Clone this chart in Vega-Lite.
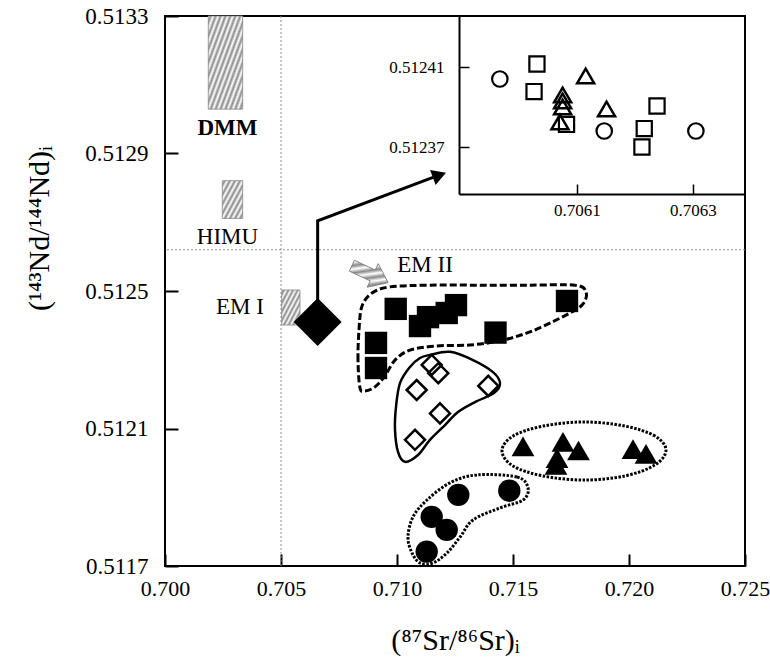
{
  "$schema": "https://vega.github.io/schema/vega-lite/v6.json",
  "width": 580,
  "height": 550,
  "autosize": {"type": "none"},
  "padding": {"left": 165, "top": 16, "right": 25, "bottom": 99},
  "background": "white",
  "config": {"view": {"stroke": "black", "strokeWidth": 2}, "font": "Liberation Serif",
    "axis": {"labelFont": "Liberation Serif", "titleFont": "Liberation Serif"}},
  "datasets": {
    "main": [
      {"s": "sq", "x": 0.709944, "y": 0.512448},
      {"s": "sq", "x": 0.710991, "y": 0.512398},
      {"s": "sq", "x": 0.711336, "y": 0.512424},
      {"s": "sq", "x": 0.712142, "y": 0.512436},
      {"s": "sq", "x": 0.712543, "y": 0.512459},
      {"s": "sq", "x": 0.717328, "y": 0.512471},
      {"s": "sq", "x": 0.714246, "y": 0.512379},
      {"s": "sq", "x": 0.709095, "y": 0.512349},
      {"s": "sq", "x": 0.709095, "y": 0.512276},
      {"s": "dm", "x": 0.711496, "y": 0.512285},
      {"s": "dm", "x": 0.71178, "y": 0.512261},
      {"s": "dm", "x": 0.710849, "y": 0.512212},
      {"s": "dm", "x": 0.713935, "y": 0.512224},
      {"s": "dm", "x": 0.711853, "y": 0.512144},
      {"s": "dm", "x": 0.710776, "y": 0.512067},
      {"s": "tr", "x": 0.715431, "y": 0.512048},
      {"s": "tr", "x": 0.717155, "y": 0.512061},
      {"s": "tr", "x": 0.716897, "y": 0.512014},
      {"s": "tr", "x": 0.716853, "y": 0.511994},
      {"s": "tr", "x": 0.717823, "y": 0.512036},
      {"s": "tr", "x": 0.720172, "y": 0.51204},
      {"s": "tr", "x": 0.720733, "y": 0.512026},
      {"s": "ci", "x": 0.712642, "y": 0.511907},
      {"s": "ci", "x": 0.714841, "y": 0.511919},
      {"s": "ci", "x": 0.711496, "y": 0.511843},
      {"s": "ci", "x": 0.712142, "y": 0.511805},
      {"s": "ci", "x": 0.71128, "y": 0.511742},
      {"s": "big", "x": 0.70658, "y": 0.51241}
    ],
    "inset": [
      {"s": "ci", "x": 0.705967, "y": 0.512404},
      {"s": "ci", "x": 0.706147, "y": 0.512378},
      {"s": "ci", "x": 0.706305, "y": 0.512378},
      {"s": "sq", "x": 0.706031, "y": 0.5124115},
      {"s": "sq", "x": 0.706026, "y": 0.5123977},
      {"s": "sq", "x": 0.706082, "y": 0.5123813},
      {"s": "sq", "x": 0.706238, "y": 0.5123905},
      {"s": "sq", "x": 0.706216, "y": 0.5123792},
      {"s": "sq", "x": 0.706212, "y": 0.51237},
      {"s": "tr", "x": 0.706115, "y": 0.5124055},
      {"s": "tr", "x": 0.706151, "y": 0.512389},
      {"s": "tr", "x": 0.7060753, "y": 0.512396},
      {"s": "tr", "x": 0.7060753, "y": 0.512393},
      {"s": "tr", "x": 0.7060753, "y": 0.51239},
      {"s": "tr", "x": 0.7060707, "y": 0.5123825}
    ],
    "outline": [
      {"g": "sq", "i": 1, "x": 0.708405, "y": 0.512218},
      {"g": "sq", "i": 2, "x": 0.708319, "y": 0.512299},
      {"g": "sq", "i": 3, "x": 0.708362, "y": 0.512387},
      {"g": "sq", "i": 4, "x": 0.708491, "y": 0.512456},
      {"g": "sq", "i": 5, "x": 0.708922, "y": 0.512494},
      {"g": "sq", "i": 6, "x": 0.709698, "y": 0.512512},
      {"g": "sq", "i": 7, "x": 0.711422, "y": 0.512517},
      {"g": "sq", "i": 8, "x": 0.713578, "y": 0.512517},
      {"g": "sq", "i": 9, "x": 0.715733, "y": 0.512517},
      {"g": "sq", "i": 10, "x": 0.717672, "y": 0.512517},
      {"g": "sq", "i": 11, "x": 0.718147, "y": 0.512497},
      {"g": "sq", "i": 12, "x": 0.717974, "y": 0.512459},
      {"g": "sq", "i": 13, "x": 0.717026, "y": 0.512421},
      {"g": "sq", "i": 14, "x": 0.715733, "y": 0.512381},
      {"g": "sq", "i": 15, "x": 0.71444, "y": 0.512355},
      {"g": "sq", "i": 16, "x": 0.713147, "y": 0.512343},
      {"g": "sq", "i": 17, "x": 0.711681, "y": 0.51234},
      {"g": "sq", "i": 18, "x": 0.71056, "y": 0.512328},
      {"g": "sq", "i": 19, "x": 0.709914, "y": 0.512299},
      {"g": "sq", "i": 20, "x": 0.709483, "y": 0.512253},
      {"g": "sq", "i": 21, "x": 0.709052, "y": 0.512221},
      {"g": "sq", "i": 22, "x": 0.708621, "y": 0.512209},
      {"g": "dm", "i": 1, "x": 0.711422, "y": 0.512314},
      {"g": "dm", "i": 2, "x": 0.712284, "y": 0.512323},
      {"g": "dm", "i": 3, "x": 0.713276, "y": 0.512299},
      {"g": "dm", "i": 4, "x": 0.714138, "y": 0.512264},
      {"g": "dm", "i": 5, "x": 0.71444, "y": 0.512232},
      {"g": "dm", "i": 6, "x": 0.714181, "y": 0.512203},
      {"g": "dm", "i": 7, "x": 0.713362, "y": 0.512177},
      {"g": "dm", "i": 8, "x": 0.712629, "y": 0.512148},
      {"g": "dm", "i": 9, "x": 0.712069, "y": 0.51211},
      {"g": "dm", "i": 10, "x": 0.711422, "y": 0.512067},
      {"g": "dm", "i": 11, "x": 0.710905, "y": 0.512023},
      {"g": "dm", "i": 12, "x": 0.710345, "y": 0.512003},
      {"g": "dm", "i": 13, "x": 0.710043, "y": 0.512032},
      {"g": "dm", "i": 14, "x": 0.709914, "y": 0.512096},
      {"g": "dm", "i": 15, "x": 0.709957, "y": 0.512163},
      {"g": "dm", "i": 16, "x": 0.710129, "y": 0.512232},
      {"g": "dm", "i": 17, "x": 0.71056, "y": 0.512279},
      {"g": "dm", "i": 18, "x": 0.710991, "y": 0.512305},
      {"g": "tr", "i": 1, "x": 0.721595, "y": 0.512037},
      {"g": "tr", "i": 2, "x": 0.721121, "y": 0.512078},
      {"g": "tr", "i": 3, "x": 0.719828, "y": 0.512107},
      {"g": "tr", "i": 4, "x": 0.71806, "y": 0.512119},
      {"g": "tr", "i": 5, "x": 0.716293, "y": 0.512107},
      {"g": "tr", "i": 6, "x": 0.715, "y": 0.512078},
      {"g": "tr", "i": 7, "x": 0.714526, "y": 0.512035},
      {"g": "tr", "i": 8, "x": 0.715, "y": 0.511991},
      {"g": "tr", "i": 9, "x": 0.716293, "y": 0.511962},
      {"g": "tr", "i": 10, "x": 0.71806, "y": 0.51195},
      {"g": "tr", "i": 11, "x": 0.719828, "y": 0.511962},
      {"g": "tr", "i": 12, "x": 0.721121, "y": 0.511994},
      {"g": "ci", "i": 1, "x": 0.713448, "y": 0.511965},
      {"g": "ci", "i": 2, "x": 0.715172, "y": 0.511959},
      {"g": "ci", "i": 3, "x": 0.715647, "y": 0.511927},
      {"g": "ci", "i": 4, "x": 0.715431, "y": 0.511892},
      {"g": "ci", "i": 5, "x": 0.71444, "y": 0.511869},
      {"g": "ci", "i": 6, "x": 0.713276, "y": 0.511834},
      {"g": "ci", "i": 7, "x": 0.712716, "y": 0.511784},
      {"g": "ci", "i": 8, "x": 0.712155, "y": 0.511738},
      {"g": "ci", "i": 9, "x": 0.711552, "y": 0.511709},
      {"g": "ci", "i": 10, "x": 0.710991, "y": 0.511709},
      {"g": "ci", "i": 11, "x": 0.710647, "y": 0.511738},
      {"g": "ci", "i": 12, "x": 0.710474, "y": 0.511784},
      {"g": "ci", "i": 13, "x": 0.71069, "y": 0.511843},
      {"g": "ci", "i": 14, "x": 0.711293, "y": 0.511892},
      {"g": "ci", "i": 15, "x": 0.712284, "y": 0.511942}
    ],
    "arrow": [
      {"i": 1, "x": 0.70658, "y": 0.51241},
      {"i": 2, "x": 0.70658, "y": 0.512704},
      {"i": 3, "x": 0.711724, "y": 0.512835}
    ],
    "arrowhead": [{"x": 0.711828, "y": 0.512837}],
    "emarrow": [{"x": 0.708836, "y": 0.512549}],
    "regions": [
      {"name": "DMM", "x1": 0.701866, "x2": 0.703349, "y1": 0.513029, "y2": 0.5133},
      {"name": "HIMU", "x1": 0.70247, "x2": 0.703349, "y1": 0.512711, "y2": 0.512821},
      {"name": "EM I", "x1": 0.70503, "x2": 0.705819, "y1": 0.512401, "y2": 0.512503}
    ],
    "labels": [
      {"label": "DMM", "x": 0.702694, "y": 0.512974},
      {"label": "HIMU", "x": 0.702694, "y": 0.512656},
      {"label": "EM I", "x": 0.703233, "y": 0.512453},
      {"label": "EM II", "x": 0.711207, "y": 0.512576}
    ],
    "vref": [{"x": 0.705}],
    "href": [{"y": 0.51262}]
  },
  "layer": [
    {
      "layer": [
        {
          "data": {"name": "main"},
          "transform": [{"filter": "datum.s === 'sq'"}],
          "mark": {"type": "point", "shape": "square", "filled": true, "color": "black", "opacity": 0, "size": 1},
          "encoding": {
            "x": {"field": "x", "type": "quantitative",
              "scale": {"domain": [0.7, 0.725], "nice": false, "zero": false},
              "axis": {"values": [0.7, 0.705, 0.71, 0.715, 0.72, 0.725], "format": ".3f", "domain": false, "grid": false,
                "tickSize": -12, "tickWidth": 2, "tickColor": "black", "labelFont": "Liberation Serif", "labelFontSize": 22, "labelColor": "black", "labelPadding": 24,
                "labelFlush": false, "labelOverlap": false,
                "title": "(⁸⁷Sr/⁸⁶Sr)ᵢ", "titleFont": "Liberation Serif", "titleFontSize": 30, "titleFontWeight": "normal", "titleColor": "black",
                "titleX": 290, "titleY": 74, "titleBaseline": "middle", "titleAlign": "center"}},
            "y": {"field": "y", "type": "quantitative",
              "scale": {"domain": [0.5117, 0.5133], "nice": false, "zero": false},
              "axis": {"values": [0.5117, 0.5121, 0.5125, 0.5129, 0.5133], "format": ".4f", "domain": false, "grid": false,
                "tickSize": -13, "tickWidth": 2, "tickColor": "black", "labelFont": "Liberation Serif", "labelFontSize": 23, "labelColor": "black", "labelPadding": 30,
                "labelFlush": false, "labelOverlap": false,
                "title": "(¹⁴³Nd/¹⁴⁴Nd)ᵢ", "titleFont": "Liberation Serif", "titleFontSize": 30, "titleFontWeight": "normal", "titleColor": "black",
                "titleX": -126, "titleY": 212, "titleBaseline": "middle", "titleAlign": "center", "titleAngle": -90}}
          }
        },
        {
          "data": {"name": "regions"},
          "transform": [{"filter": "datum.name === 'DMM'"}],
          "mark": {"type": "rect", "stroke": "#888888", "strokeWidth": 0.8,
            "fill": {"gradient": "linear", "x1": 0, "y1": 0, "x2": 1, "y2": 1, "stops": [
              {"offset": 0, "color": "#ffffff"}, {"offset": 0.0357, "color": "#8a8a8a"}, {"offset": 0.0714, "color": "#ffffff"}, {"offset": 0.1071, "color": "#8a8a8a"},
              {"offset": 0.1429, "color": "#ffffff"}, {"offset": 0.1786, "color": "#8a8a8a"}, {"offset": 0.2143, "color": "#ffffff"}, {"offset": 0.25, "color": "#8a8a8a"},
              {"offset": 0.2857, "color": "#ffffff"}, {"offset": 0.3214, "color": "#8a8a8a"}, {"offset": 0.3571, "color": "#ffffff"}, {"offset": 0.3929, "color": "#8a8a8a"},
              {"offset": 0.4286, "color": "#ffffff"}, {"offset": 0.4643, "color": "#8a8a8a"}, {"offset": 0.5, "color": "#ffffff"}, {"offset": 0.5357, "color": "#8a8a8a"},
              {"offset": 0.5714, "color": "#ffffff"}, {"offset": 0.6071, "color": "#8a8a8a"}, {"offset": 0.6429, "color": "#ffffff"}, {"offset": 0.6786, "color": "#8a8a8a"},
              {"offset": 0.7143, "color": "#ffffff"}, {"offset": 0.75, "color": "#8a8a8a"}, {"offset": 0.7857, "color": "#ffffff"}, {"offset": 0.8214, "color": "#8a8a8a"},
              {"offset": 0.8571, "color": "#ffffff"}, {"offset": 0.8929, "color": "#8a8a8a"}, {"offset": 0.9286, "color": "#ffffff"}, {"offset": 0.9643, "color": "#8a8a8a"},
              {"offset": 1, "color": "#ffffff"}]}},
          "encoding": {
            "x": {"field": "x1", "type": "quantitative"},
            "x2": {"field": "x2"},
            "y": {"field": "y1", "type": "quantitative"},
            "y2": {"field": "y2"}
          }
        },
        {
          "data": {"name": "regions"},
          "transform": [{"filter": "datum.name !== 'DMM'"}],
          "mark": {"type": "rect", "stroke": "#888888", "strokeWidth": 0.8,
            "fill": {"gradient": "linear", "x1": 0, "y1": 0, "x2": 1, "y2": 1, "stops": [
              {"offset": 0, "color": "#ffffff"}, {"offset": 0.0625, "color": "#8a8a8a"}, {"offset": 0.125, "color": "#ffffff"}, {"offset": 0.1875, "color": "#8a8a8a"},
              {"offset": 0.25, "color": "#ffffff"}, {"offset": 0.3125, "color": "#8a8a8a"}, {"offset": 0.375, "color": "#ffffff"}, {"offset": 0.4375, "color": "#8a8a8a"},
              {"offset": 0.5, "color": "#ffffff"}, {"offset": 0.5625, "color": "#8a8a8a"}, {"offset": 0.625, "color": "#ffffff"}, {"offset": 0.6875, "color": "#8a8a8a"},
              {"offset": 0.75, "color": "#ffffff"}, {"offset": 0.8125, "color": "#8a8a8a"}, {"offset": 0.875, "color": "#ffffff"}, {"offset": 0.9375, "color": "#8a8a8a"},
              {"offset": 1, "color": "#ffffff"}]}},
          "encoding": {
            "x": {"field": "x1", "type": "quantitative"},
            "x2": {"field": "x2"},
            "y": {"field": "y1", "type": "quantitative"},
            "y2": {"field": "y2"}
          }
        },
        {
          "data": {"name": "vref"},
          "mark": {"type": "rule", "color": "#8c8c8c", "strokeWidth": 1, "strokeDash": [2, 2]},
          "encoding": {"x": {"field": "x", "type": "quantitative"}}
        },
        {
          "data": {"name": "href"},
          "mark": {"type": "rule", "color": "#8c8c8c", "strokeWidth": 1, "strokeDash": [2, 2]},
          "encoding": {"y": {"field": "y", "type": "quantitative"}}
        },
        {
          "data": {"name": "outline"},
          "transform": [{"filter": "datum.g === 'sq'"}],
          "mark": {"type": "line", "interpolate": "cardinal-closed", "color": "black", "strokeWidth": 3, "strokeDash": [7, 3]},
          "encoding": {
            "x": {"field": "x", "type": "quantitative"},
            "y": {"field": "y", "type": "quantitative"},
            "order": {"field": "i", "type": "quantitative"}
          }
        },
        {
          "data": {"name": "outline"},
          "transform": [{"filter": "datum.g === 'dm'"}],
          "mark": {"type": "line", "interpolate": "cardinal-closed", "color": "black", "strokeWidth": 2.5},
          "encoding": {
            "x": {"field": "x", "type": "quantitative"},
            "y": {"field": "y", "type": "quantitative"},
            "order": {"field": "i", "type": "quantitative"}
          }
        },
        {
          "data": {"name": "outline"},
          "transform": [{"filter": "datum.g === 'tr' || datum.g === 'ci'"}],
          "mark": {"type": "line", "interpolate": "cardinal-closed", "color": "black", "strokeWidth": 3, "strokeDash": [2.5, 1.5]},
          "encoding": {
            "x": {"field": "x", "type": "quantitative"},
            "y": {"field": "y", "type": "quantitative"},
            "detail": {"field": "g"},
            "order": {"field": "i", "type": "quantitative"}
          }
        },
        {
          "data": {"name": "arrow"},
          "mark": {"type": "line", "color": "black", "strokeWidth": 3},
          "encoding": {
            "x": {"field": "x", "type": "quantitative"},
            "y": {"field": "y", "type": "quantitative"},
            "order": {"field": "i", "type": "quantitative"}
          }
        },
        {
          "data": {"name": "arrowhead"},
          "mark": {"type": "point", "shape": "triangle-right", "filled": true, "color": "black", "opacity": 1, "size": 260, "angle": 340},
          "encoding": {
            "x": {"field": "x", "type": "quantitative"},
            "y": {"field": "y", "type": "quantitative"}
          }
        },
        {
          "data": {"name": "emarrow"},
          "mark": {"type": "point", "shape": "M-1,-0.3L0.15,-0.3L0.15,-0.65L1,0L0.15,0.65L0.15,0.3L-1,0.3Z", "angle": 25, "size": 1600, "opacity": 1, "stroke": "#777777", "strokeWidth": 0.8,
            "fill": {"gradient": "linear", "x1": 0, "y1": 0, "x2": 1, "y2": 1, "stops": [
              {"offset": 0, "color": "#ffffff"}, {"offset": 0.0833, "color": "#8a8a8a"}, {"offset": 0.1667, "color": "#ffffff"}, {"offset": 0.25, "color": "#8a8a8a"},
              {"offset": 0.3333, "color": "#ffffff"}, {"offset": 0.4167, "color": "#8a8a8a"}, {"offset": 0.5, "color": "#ffffff"}, {"offset": 0.5833, "color": "#8a8a8a"},
              {"offset": 0.6667, "color": "#ffffff"}, {"offset": 0.75, "color": "#8a8a8a"}, {"offset": 0.8333, "color": "#ffffff"}, {"offset": 0.9167, "color": "#8a8a8a"},
              {"offset": 1, "color": "#ffffff"}]}},
          "encoding": {
            "x": {"field": "x", "type": "quantitative"},
            "y": {"field": "y", "type": "quantitative"}
          }
        },
        {
          "data": {"name": "main"},
          "transform": [{"filter": "datum.s === 'sq'"}],
          "mark": {"type": "point", "shape": "square", "filled": true, "color": "black", "opacity": 1, "size": 500},
          "encoding": {
            "x": {"field": "x", "type": "quantitative"},
            "y": {"field": "y", "type": "quantitative"}
          }
        },
        {
          "data": {"name": "main"},
          "transform": [{"filter": "datum.s === 'dm'"}],
          "mark": {"type": "point", "shape": "diamond", "filled": false, "stroke": "black", "strokeWidth": 2.5, "opacity": 1, "size": 400},
          "encoding": {
            "x": {"field": "x", "type": "quantitative"},
            "y": {"field": "y", "type": "quantitative"}
          }
        },
        {
          "data": {"name": "main"},
          "transform": [{"filter": "datum.s === 'tr'"}],
          "mark": {"type": "point", "shape": "triangle-up", "filled": true, "color": "black", "opacity": 1, "size": 520},
          "encoding": {
            "x": {"field": "x", "type": "quantitative"},
            "y": {"field": "y", "type": "quantitative"}
          }
        },
        {
          "data": {"name": "main"},
          "transform": [{"filter": "datum.s === 'ci'"}],
          "mark": {"type": "point", "shape": "circle", "filled": true, "color": "black", "opacity": 1, "size": 500},
          "encoding": {
            "x": {"field": "x", "type": "quantitative"},
            "y": {"field": "y", "type": "quantitative"}
          }
        },
        {
          "data": {"name": "main"},
          "transform": [{"filter": "datum.s === 'big'"}],
          "mark": {"type": "point", "shape": "diamond", "filled": true, "color": "black", "opacity": 1, "size": 2300},
          "encoding": {
            "x": {"field": "x", "type": "quantitative"},
            "y": {"field": "y", "type": "quantitative"}
          }
        },
        {
          "data": {"name": "labels"},
          "transform": [{"filter": "datum.label !== 'DMM'"}],
          "mark": {"type": "text", "fontSize": 23, "color": "black", "align": "center", "baseline": "middle"},
          "encoding": {
            "x": {"field": "x", "type": "quantitative"},
            "y": {"field": "y", "type": "quantitative"},
            "text": {"field": "label"}
          }
        },
        {
          "data": {"name": "labels"},
          "transform": [{"filter": "datum.label === 'DMM'"}],
          "mark": {"type": "text", "fontSize": 23, "fontWeight": "bold", "color": "black", "align": "center", "baseline": "middle"},
          "encoding": {
            "x": {"field": "x", "type": "quantitative"},
            "y": {"field": "y", "type": "quantitative"},
            "text": {"field": "label"}
          }
        }
      ]
    },
    {
      "layer": [
        {
          "data": {"name": "inset"},
          "transform": [{"filter": "datum.s === 'ci'"}],
          "mark": {"type": "point", "shape": "circle", "filled": false, "stroke": "black", "strokeWidth": 2.2, "opacity": 1, "size": 240},
          "encoding": {
            "x": {"field": "x", "type": "quantitative",
              "scale": {"domain": [0.7058966, 0.7063897], "range": [294, 580], "nice": false, "zero": false},
              "axis": {"orient": "bottom", "offset": -372, "values": [0.7061, 0.7063], "format": ".4f", "domain": true, "domainColor": "black", "domainWidth": 2,
                "grid": false, "tickSize": -10, "tickWidth": 1.5, "tickColor": "black", "labelFont": "Liberation Serif", "labelFontSize": 17, "labelColor": "black", "labelPadding": 18,
                "labelFlush": false, "labelOverlap": false, "title": null}},
            "y": {"field": "y", "type": "quantitative",
              "scale": {"domain": [0.5123465, 0.5124355], "range": [178, 0], "nice": false, "zero": false},
              "axis": {"orient": "left", "offset": -294, "values": [0.51237, 0.51241], "format": ".5f", "domain": true, "domainColor": "black", "domainWidth": 2,
                "grid": false, "tickSize": -10, "tickWidth": 1.5, "tickColor": "black", "labelFont": "Liberation Serif", "labelFontSize": 17, "labelColor": "black", "labelPadding": 25,
                "labelFlush": false, "labelOverlap": false, "title": null}}
          }
        },
        {
          "data": {"name": "inset"},
          "transform": [{"filter": "datum.s === 'sq'"}],
          "mark": {"type": "point", "shape": "square", "filled": false, "stroke": "black", "strokeWidth": 2.2, "opacity": 1, "size": 230},
          "encoding": {
            "x": {"field": "x", "type": "quantitative"},
            "y": {"field": "y", "type": "quantitative"}
          }
        },
        {
          "data": {"name": "inset"},
          "transform": [{"filter": "datum.s === 'tr'"}],
          "mark": {"type": "point", "shape": "triangle-up", "filled": false, "stroke": "black", "strokeWidth": 2.5, "opacity": 1, "size": 290},
          "encoding": {
            "x": {"field": "x", "type": "quantitative"},
            "y": {"field": "y", "type": "quantitative"}
          }
        }
      ]
    }
  ],
  "resolve": {"scale": {"x": "independent", "y": "independent"}, "axis": {"x": "independent", "y": "independent"}}
}
